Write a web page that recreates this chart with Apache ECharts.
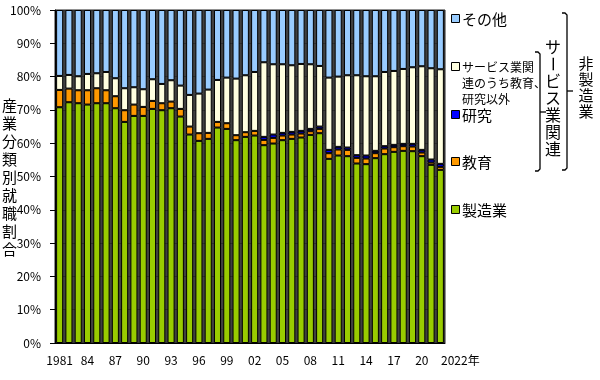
<!DOCTYPE html>
<html><head><meta charset="utf-8">
<script src="https://cdn.jsdelivr.net/npm/echarts@6/dist/echarts.min.js"></script>
<style>html,body{margin:0;padding:0;background:#fff}#c{width:600px;height:380px}</style>
</head><body><div id="c"></div>
<script>
const years = ['1981','1982','1983','1984','1985','1986','1987','1988','1989','1990','1991','1992','1993','1994','1995','1996','1997','1998','1999','2000','2001','2002','2003','2004','2005','2006','2007','2008','2009','2010','2011','2012','2013','2014','2015','2016','2017','2018','2019','2020','2021','2022'];
const manufacturing = [70.8,72.3,72.0,71.6,72.0,72.0,70.5,66.4,68.2,68.2,70.3,69.9,70.5,68.0,62.6,60.7,61.3,64.7,64.3,60.9,61.9,62.3,59.4,59.9,60.9,61.3,61.7,62.5,63.0,55.3,56.3,56.1,53.9,53.7,55.5,56.7,57.4,57.7,57.6,56.1,53.5,52.0];
const education = [5.2,4.1,3.9,4.3,4.5,3.9,3.6,3.5,3.4,2.7,2.4,2.1,2.0,2.3,2.4,2.3,1.8,1.7,1.7,1.5,1.4,1.4,1.6,1.7,1.4,1.3,1.2,1.1,1.3,1.7,1.8,1.9,1.7,1.7,1.5,1.7,1.4,1.4,1.4,1.1,0.7,0.9];
const research = [0,0,0,0,0,0,0,0,0,0,0,0,0,0,0,0,0,0,0,0,0,0,0.9,1.0,0.8,0.8,0.8,0.7,0.7,1.0,0.8,0.7,0.8,0.9,0.7,0.7,0.7,0.7,0.8,0.8,0.9,0.9];
const serviceOther = [4.2,4.1,4.2,4.9,4.5,5.5,5.4,6.6,5.2,5.3,6.5,5.8,6.4,7.0,9.5,11.9,13.0,12.6,13.7,17.0,17.1,17.7,22.4,21.1,20.6,20.0,20.1,19.4,18.2,21.7,21.1,21.7,24.0,23.8,22.4,22.3,22.2,22.5,23.0,25.1,27.4,28.4];
const others = [19.8,19.5,19.9,19.2,19.0,18.6,20.5,23.5,23.2,23.8,20.8,22.2,21.1,22.7,25.5,25.1,23.9,21.0,20.3,20.6,19.6,18.6,15.7,16.3,16.3,16.6,16.2,16.3,16.8,20.3,20.0,19.6,19.6,19.9,19.9,18.6,18.3,17.7,17.2,16.9,17.5,17.8];
const seriesNames = ['製造業','教育','研究','サービス業関連のうち教育、研究以外','その他'];
const legendLabels = ['その他','サービス業関\n連のうち教育、\n研究以外','研究','教育','製造業'];
const yAxisName = '産業分類別就職割合';
const groupInner = 'サービス業関連';
const groupOuter = '非製造業';

const colors = {'製造業':'#99cc00','教育':'#ff9900','研究':'#0000ff','サービス業関連のうち教育、研究以外':'#ffffe0','その他':'#99ccff'};
const seriesData = [manufacturing, education, research, serviceOther, others];
const FONT = '"Noto Sans CJK JP", sans-serif';

const chart = echarts.init(document.getElementById('c'), null, {renderer:'canvas'});

const series = seriesNames.map((n, k) => ({
  name: n, type: 'bar', stack: 'total', barCategoryGap: '24%',
  data: seriesData[k].map(v => v === 0 ? '-' : v),
  itemStyle: {color: colors[n], borderColor: '#000', borderWidth: 1},
  emphasis: {disabled: true}, animation: false
}));

const graphic = [];
// y-axis name (vertical)
graphic.push({type:'text', left: 2, top: 96, style:{text: yAxisName.split('').join('\n'), font: '15px ' + FONT, lineHeight: 18, fill:'#000'}});
// legend
const legendY = [19, 67, 115, 162, 210];
const legendKeys = ['その他','サービス業関連のうち教育、研究以外','研究','教育','製造業'];
legendKeys.forEach((key, i) => {
  graphic.push({type:'rect', shape:{x:451.5, y:legendY[i]-4.5, width:8, height:8}, style:{fill: colors[key], stroke:'#000', lineWidth:1}});
  const small = i === 1;
  graphic.push({type:'text', x: 462, y: small ? legendY[i]-8 : legendY[i]-9, style:{text: legendLabels[i], font: (small ? '12px ' : '15px ') + FONT, lineHeight: small ? 16 : 18, fill:'#000', textVerticalAlign:'top'}});
});
// brackets
function bracket(x, y1, y2) {
  return {type:'polyline', shape:{points:[[x-5,y1],[x-2,y1],[x,y1+2],[x,y2-2],[x-2,y2],[x-5,y2]]}, style:{stroke:'#000', lineWidth:1.3, fill:null}};
}
graphic.push(bracket(567, 13, 170));
graphic.push({type:'line', shape:{x1:567, y1:91, x2:573, y2:91}, style:{stroke:'#000', lineWidth:1.3}});
graphic.push(bracket(540, 52, 171));
graphic.push({type:'line', shape:{x1:540, y1:112, x2:546, y2:112}, style:{stroke:'#000', lineWidth:1.3}});
// vertical group labels
function vtext(str, cx, cy0, step, size) {
  str.split('').forEach((ch, i) => {
    graphic.push({type:'text', x: cx, y: cy0 + i*step, rotation: ch === 'ー' ? -Math.PI/2 : 0,
      style:{text: ch, font: size + 'px ' + FONT, fill:'#000', textAlign:'center', textVerticalAlign:'middle'}});
  });
}
vtext(groupInner, 553, 47, 17, 16);
vtext(groupOuter, 586, 63, 16, 15);

chart.setOption({
  animation: false,
  backgroundColor: '#fff',
  grid: {left: 55, right: 155, top: 10, bottom: 37, show: true, backgroundColor: '#404040', borderColor: '#222', borderWidth: 1},
  xAxis: {
    type: 'category', data: years,
    axisLine: {lineStyle: {color: '#000', width: 1}},
    axisTick: {show: false},
    axisLabel: {
      interval: (i) => (i % 3 === 0 && i <= 39) || i === 41,
      formatter: (v, i) => i === 0 ? v : (i === 41 ? '{last|' + v + '年}' : v.slice(2)),
      color: '#000', fontSize: 12, fontFamily: FONT, margin: 11,
      rich: {last: {fontSize: 12, fontFamily: FONT, color: '#000', padding: [0,0,0,40]}}
    }
  },
  yAxis: {
    type: 'value', min: 0, max: 100, interval: 10,
    axisLine: {show: true, lineStyle: {color: '#000'}},
    axisTick: {show: true, length: 5, lineStyle: {color: '#000'}},
    axisLabel: {formatter: '{value}%', color: '#000', fontSize: 12, fontFamily: FONT, margin: 14},
    splitLine: {show: true, lineStyle: {color: '#2e2e2e'}}
  },
  series: series,
  graphic: graphic
});
</script></body></html>
